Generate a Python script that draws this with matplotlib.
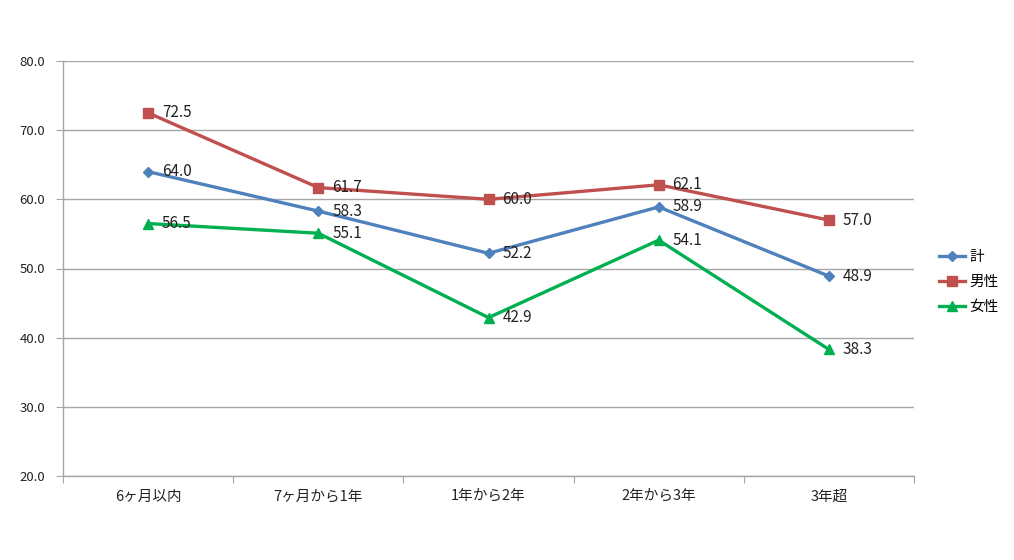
import matplotlib
matplotlib.use("Agg")
import matplotlib.pyplot as plt

plt.rcParams['font.family'] = ['Noto Sans CJK JP', 'DejaVu Sans']

categories = ["6ヶ月以内", "7ヶ月から1年", "1年から2年", "2年から3年", "3年超"]
total = [64.0, 58.3, 52.2, 58.9, 48.9]
male = [72.5, 61.7, 60.0, 62.1, 57.0]
female = [56.5, 55.1, 42.9, 54.1, 38.3]
series_names = ["計", "男性", "女性"]
yticks = [20, 30, 40, 50, 60, 70, 80]

fig = plt.figure(figsize=(10.14, 5.6), dpi=100)
ax = fig.add_axes([63/1014, 1-476/560, (914-63)/1014, (476-61)/560])

x = [i + 0.5 for i in range(len(categories))]
styles = [
    (total, "#4F81BD", "D", 5),
    (male, "#C0504D", "s", 7),
    (female, "#00B050", "^", 7),
]
for (vals, col, mk, ms), name in zip(styles, series_names):
    ax.plot(x, vals, color=col, marker=mk, markersize=ms, linewidth=2.4, label=name, zorder=3)
    for xi, v in zip(x, vals):
        ax.annotate(f"{v:.1f}", (xi, v), xytext=(10, 0), textcoords="offset points",
                    va="center", ha="left", fontsize=11, color="#222222", zorder=4)

ax.set_xlim(0, 5)
ax.set_ylim(20, 80)
ax.set_yticks(yticks)
ax.set_yticklabels([f"{t:.1f}" for t in yticks], fontsize=9.5, color="#222222")
ax.yaxis.grid(True, color="#A6A6A6", linewidth=1)
ax.set_axisbelow(True)
ax.set_xticks(range(0, 6))
ax.set_xticklabels([])
ax.set_xticks(x, minor=True)
ax.set_xticklabels(categories, minor=True, fontsize=10.5, color="#222222")
ax.tick_params(axis="x", which="minor", length=0, pad=10)
ax.tick_params(axis="x", which="major", length=5, color="#A6A6A6", direction="out")
ax.tick_params(axis="y", length=5, color="#A6A6A6", pad=8)
for s in ["top", "right"]:
    ax.spines[s].set_visible(False)
for s in ["left", "bottom"]:
    ax.spines[s].set_color("#A6A6A6")
    ax.spines[s].set_linewidth(1)

leg = fig.legend(loc="center left", bbox_to_anchor=(926/1014, 1-282/560), frameon=False,
                 fontsize=10.5, handlelength=1.8, handletextpad=0.3, labelspacing=0.75)

fig.savefig("out.png", dpi=100)
